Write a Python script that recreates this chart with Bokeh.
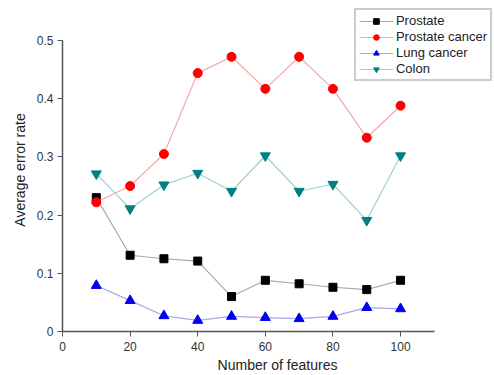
from bokeh.plotting import figure
from bokeh.models import Range1d, Legend, LegendItem
from bokeh.embed import file_html
from bokeh.resources import INLINE

features = [10, 20, 30, 40, 50, 60, 70, 80, 90, 100]
prostate = [0.230, 0.131, 0.125, 0.121, 0.060, 0.088, 0.082, 0.076, 0.072, 0.088]
prostate_cancer = [0.222, 0.250, 0.305, 0.444, 0.472, 0.417, 0.472, 0.417, 0.333, 0.388]
lung_cancer = [0.079, 0.053, 0.027, 0.019, 0.026, 0.024, 0.022, 0.026, 0.041, 0.039]
colon = [0.271, 0.211, 0.252, 0.272, 0.241, 0.302, 0.241, 0.253, 0.191, 0.302]
x_ticks = [0, 20, 40, 60, 80, 100]
y_ticks = [0.0, 0.1, 0.2, 0.3, 0.4, 0.5]

p = figure(width=492, height=375, output_backend="svg", toolbar_location=None,
           x_range=Range1d(0, 127.2), y_range=Range1d(0, 0.555),
           min_border_left=62, min_border_right=0, min_border_top=8, min_border_bottom=44)
p.outline_line_color = None
p.xgrid.visible = False
p.ygrid.visible = False

series = [
    ("Prostate", prostate, "#000000", "#a8a8a8", "square", 8),
    ("Prostate cancer", prostate_cancer, "#ff0000", "#f5a8a8", "circle", 9),
    ("Lung cancer", lung_cancer, "#0000ee", "#a8a8f0", "triangle", 10),
    ("Colon", colon, "#008080", "#a0d0d0", "inverted_triangle", 10),
]
items = []
for name, vals, mc, lc, marker, sz in series:
    l = p.line(features, vals, line_color=lc, line_width=1.2)
    s = p.scatter(features, vals, marker=marker, size=sz, fill_color=mc, line_color=mc)
    items.append(LegendItem(label=name, renderers=[l, s]))

legend = Legend(items=items, location="top_right")
legend.glyph_width = 34
legend.glyph_height = 14
legend.label_text_font = "Liberation Sans"
legend.label_text_font_size = "13px"
legend.label_text_color = "#222222"
legend.label_height = 14
legend.label_standoff = 3
legend.spacing = 1
legend.padding = 3
legend.margin = 0
legend.border_line_color = "#999999"
legend.border_line_width = 2
legend.background_fill_alpha = 1
p.add_layout(legend)

for ax in (p.xaxis[0], p.yaxis[0]):
    ax.axis_line_color = "#555555"
    ax.axis_line_width = 1.5
    ax.major_tick_line_color = "#555555"
    ax.minor_tick_line_color = "#555555"
    ax.major_tick_out = 5
    ax.major_tick_in = 0
    ax.minor_tick_out = 3
    ax.minor_tick_in = 0
    ax.major_label_text_font = "Liberation Sans"
    ax.major_label_text_font_size = "12px"
    ax.major_label_text_color = "#333333"
    ax.axis_label_text_font = "Liberation Sans"
    ax.axis_label_text_font_size = "14px"
    ax.axis_label_text_font_style = "normal"
    ax.axis_label_text_color = "#222222"

p.xaxis.bounds = (0, 110)
p.yaxis.bounds = (0, 0.5)
p.xaxis.ticker = x_ticks
p.xaxis[0].ticker.num_minor_ticks = 2
p.yaxis.ticker = y_ticks
p.yaxis[0].ticker.num_minor_ticks = 2
p.xaxis.axis_label = "Number of features"
p.yaxis.axis_label = "Average error rate"
p.xaxis.major_label_standoff = 5
p.xaxis.axis_label_standoff = 3
p.yaxis.major_label_standoff = 4
p.yaxis.axis_label_standoff = 6

open("out.html", "w").write(file_html(p, INLINE))
